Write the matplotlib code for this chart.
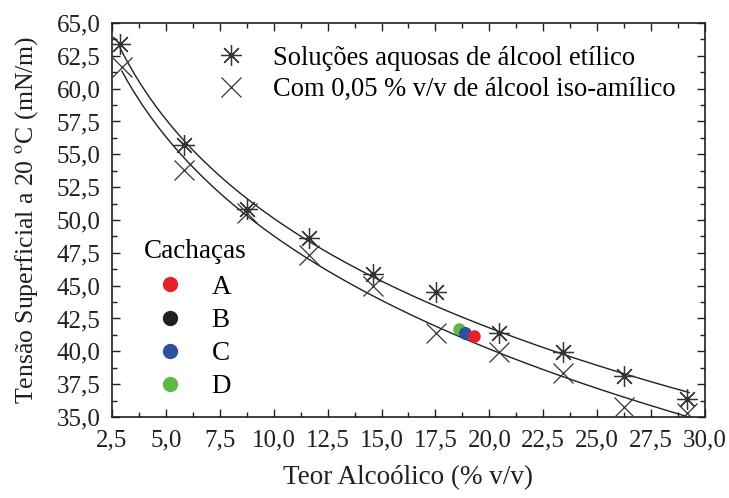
import matplotlib.pyplot as plt
import numpy as np
from matplotlib.lines import Line2D
from matplotlib.ticker import MultipleLocator, FuncFormatter

plt.rcParams['font.family'] = ['Liberation Serif', 'DejaVu Serif']
plt.rcParams['mathtext.fontset'] = 'stix'

# ethanol aqueous solutions
teor_etanol = [2.87, 5.84, 8.76, 11.64, 14.6, 17.53, 20.45, 23.42, 26.25, 29.17]
tensao_etanol = [63.4, 55.7, 50.8, 48.6, 45.9, 44.5, 41.4, 39.95, 38.15, 36.35]

# with 0.05 % v/v isoamyl alcohol
teor_iso = [2.96, 5.84, 8.76, 11.64, 14.6, 17.53, 20.45, 23.42, 26.25, 29.17]
tensao_iso = [61.65, 53.8, 50.5, 47.3, 45.0, 41.4, 39.95, 38.35, 35.75, 35.3]

# cachacas
cachacas = ['A', 'B', 'C', 'D']
teor_cach = [19.29, 18.85, 18.87, 18.59]
tensao_cach = [41.16, 41.38, 41.39, 41.69]
cores_cach = ['#e8202a', '#231f20', '#2f4fa0', '#5cb947']

fig = plt.figure(figsize=(7.29, 4.98), dpi=100)
ax = fig.add_axes([0.1536, 0.1627, 0.8134, 0.7911])

star = (8, 2, 0)

# fitted curves (quadratic in ln x)
for xs, ys in [(teor_etanol, tensao_etanol), (teor_iso, tensao_iso)]:
    lx = np.log(xs)
    coef = np.polyfit(lx, ys, 2)
    xx = np.linspace(min(xs), max(xs) + 0.1, 300)
    ax.plot(xx, np.polyval(coef, np.log(xx)), color='#231f20', lw=1.0, zorder=2)

ax.plot(teor_etanol, tensao_etanol, ls='none', marker=star, ms=15, mew=0.9,
        color='#333333', zorder=3)
ax.plot(teor_iso, tensao_iso, ls='none', marker='x', ms=14, mew=0.9,
        color='#333333', zorder=3)

ordem = [3, 1, 2, 0]
for i in ordem:
    ax.plot(teor_cach[i], tensao_cach[i], ls='none', marker='o', ms=8,
            color=cores_cach[i], zorder=4)

ax.set_xlim(2.5, 30.0)
ax.set_ylim(35.0, 65.0)
ax.xaxis.set_major_locator(MultipleLocator(2.5))
ax.xaxis.set_minor_locator(MultipleLocator(1.25))
ax.yaxis.set_major_locator(MultipleLocator(2.5))
ax.yaxis.set_minor_locator(MultipleLocator(1.25))
fmt = FuncFormatter(lambda v, p: ('%.1f' % v).replace('.', ','))
ax.xaxis.set_major_formatter(fmt)
ax.yaxis.set_major_formatter(fmt)
ax.tick_params(which='both', direction='in', top=True, right=True,
               labelsize=18, width=1.0, colors='#231f20')
ax.tick_params(which='major', length=6)
ax.tick_params(which='minor', length=3.5)
ax.tick_params(axis='x', which='major', pad=9)
ax.tick_params(axis='y', which='major', pad=8)
for s in ax.spines.values():
    s.set_linewidth(1.2)
    s.set_color('#231f20')

ax.set_xlabel('Teor Alcoólico (% v/v)', fontsize=19.5, labelpad=10, color='#231f20')
ax.set_ylabel('Tensão Superficial a 20 $^{\\mathrm{o}}$C (mN/m)', fontsize=18.5,
              labelpad=12, color='#231f20')

h1 = [Line2D([], [], ls='none', marker=star, ms=15, mew=0.9, color='#333333'),
      Line2D([], [], ls='none', marker='x', ms=14, mew=0.9, color='#333333')]
leg1 = ax.legend(h1, ['Soluções aquosas de álcool etílico',
                      'Com 0,05 % v/v de álcool iso-amílico'],
                 loc='upper left', bbox_to_anchor=(0.127, 1.003), frameon=False,
                 fontsize=19.1, handletextpad=0.85, labelspacing=0.25,
                 handlelength=1.5)
ax.add_artist(leg1)

h2 = [Line2D([], [], ls='none', marker='o', ms=10, color=c) for c in cores_cach]
leg2 = ax.legend(h2, cachacas, loc='lower left', bbox_to_anchor=(0.013, -0.017),
                 frameon=False, fontsize=19.5, title='Cachaças', title_fontsize=19.5,
                 handletextpad=0.6, labelspacing=0.3, handlelength=1.9,
                 alignment='left')
leg2._legend_box.sep = 8

fig.savefig('out.png', dpi=100)
